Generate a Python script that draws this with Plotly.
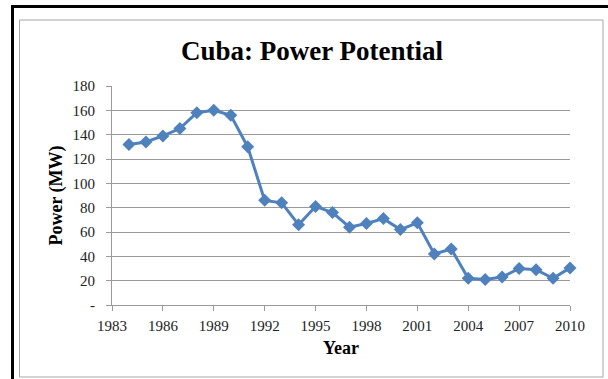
import plotly.graph_objects as go

# Annual power potential for Cuba (MW)
years = [1984, 1985, 1986, 1987, 1988, 1989, 1990, 1991, 1992, 1993, 1994,
         1995, 1996, 1997, 1998, 1999, 2000, 2001, 2002, 2003, 2004, 2005,
         2006, 2007, 2008, 2009, 2010]
power_mw = [132, 134, 139, 145, 158, 160, 156, 130, 86, 84, 66,
            81, 76, 64, 67, 71, 62, 67.5, 42, 46, 22, 21,
            23, 30, 29, 22, 30.5]

x_ticks = [1983, 1986, 1989, 1992, 1995, 1998, 2001, 2004, 2007, 2010]
y_ticks = [0, 20, 40, 60, 80, 100, 120, 140, 160, 180]
y_tick_text = ["-"] + [str(v) for v in y_ticks[1:]]

W, H = 608, 379
ML, MR, MT, MB = 112, 38, 86, 74
PW, PH = W - ML - MR, H - MT - MB


def px(xp):
    return (xp - ML) / PW


def py(yp):
    return (H - MB - yp) / PH


FONT = "Liberation Serif"
BLUE = "#4F81BD"
GRID = "#9a9a9a"

fig = go.Figure()
fig.add_trace(go.Scatter(
    x=years, y=power_mw, mode="lines+markers",
    line=dict(color=BLUE, width=3),
    marker=dict(symbol="diamond", size=10, color=BLUE),
    showlegend=False, cliponaxis=False,
))

shapes = [
    # outer chart frame
    dict(type="rect", xref="paper", yref="paper",
         x0=px(19.5), x1=px(603), y0=py(377), y1=py(20),
         line=dict(color="#a6a6a6", width=1), layer="below"),
    # heavy page rules on the top and left
    dict(type="line", xref="paper", yref="paper",
         x0=px(11), x1=px(608), y0=py(6.5), y1=py(6.5),
         line=dict(color="black", width=3)),
    dict(type="line", xref="paper", yref="paper",
         x0=px(12.5), x1=px(12.5), y0=py(5), y1=py(379),
         line=dict(color="black", width=3)),
]

fig.update_layout(
    width=W, height=H,
    margin=dict(l=ML, r=MR, t=MT, b=MB),
    paper_bgcolor="white", plot_bgcolor="white",
    shapes=shapes,
    title=dict(text="<b>Cuba: Power Potential</b>", x=px(312), xref="paper",
               xanchor="center", y=1 - 51 / H, yanchor="middle",
               font=dict(family=FONT, size=27, color="black")),
    font=dict(family=FONT, color="#222222"),
)

fig.update_xaxes(
    range=[1983, 2010], tickvals=x_ticks, ticktext=[str(t) for t in x_ticks],
    showgrid=False, zeroline=False,
    showline=True, linecolor=GRID, linewidth=1,
    ticks="outside", ticklen=5, tickcolor=GRID, ticklabelstandoff=2,
    tickfont=dict(family=FONT, size=15, color="#222222"),
    title=dict(text="<b>Year</b>", font=dict(family=FONT, size=18, color="black"),
               standoff=8),
)
fig.update_yaxes(
    range=[0, 180], tickvals=y_ticks, ticktext=y_tick_text,
    showgrid=True, gridcolor=GRID, gridwidth=1, zeroline=False,
    showline=True, linecolor=GRID, linewidth=1,
    ticks="outside", ticklen=5, tickcolor=GRID, ticklabelstandoff=8,
    tickfont=dict(family=FONT, size=15, color="#222222"),
    title=dict(text="<b>Power (MW)</b>", font=dict(family=FONT, size=18, color="black"),
               standoff=5),
)

fig.write_html("out.html")
